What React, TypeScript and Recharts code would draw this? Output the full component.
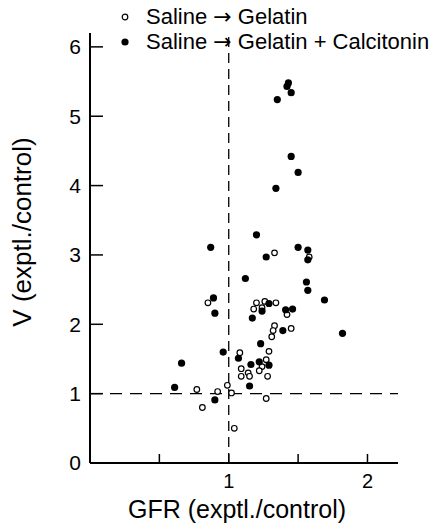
import {ReferenceLine, Scatter, ScatterChart, XAxis, YAxis} from "recharts";

// Saline -> Gelatin (open circles)
const gelatinGfr = [1.33, 1.58, 0.85, 1.20, 1.18, 1.26, 1.34, 1.24, 1.42, 1.33, 1.32, 1.31, 1.45, 1.29, 1.08, 1.27, 1.24, 1.09, 1.22, 1.14, 1.09, 1.15, 1.28, 0.77, 0.99, 0.92, 1.02, 0.81, 1.27, 1.04];
const gelatinV = [3.03, 2.97, 2.31, 2.31, 2.22, 2.33, 2.31, 2.24, 2.14, 1.98, 1.91, 1.82, 1.94, 1.61, 1.59, 1.49, 1.39, 1.36, 1.33, 1.30, 1.25, 1.25, 1.25, 1.06, 1.12, 1.03, 1.01, 0.80, 0.93, 0.50];

// Saline -> Gelatin + Calcitonin (filled circles)
const calcitoninGfr = [1.43, 1.42, 1.45, 1.35, 1.45, 1.50, 1.34, 1.20, 0.87, 1.27, 1.50, 1.57, 1.57, 1.12, 1.56, 1.57, 1.69, 0.89, 0.90, 1.29, 1.24, 1.41, 1.46, 1.17, 1.39, 1.82, 1.23, 0.96, 1.07, 0.66, 1.16, 1.22, 1.29, 1.15, 0.61, 0.90];
const calcitoninV = [5.48, 5.43, 5.34, 5.24, 4.42, 4.19, 3.96, 3.29, 3.11, 2.97, 3.11, 3.07, 2.93, 2.66, 2.61, 2.49, 2.35, 2.38, 2.16, 2.30, 2.19, 2.21, 2.22, 2.09, 1.91, 1.87, 1.72, 1.60, 1.51, 1.44, 1.42, 1.46, 1.41, 1.11, 1.09, 0.91];

const xTicks = [0.5, 1, 1.5, 2];
const yTicks = [0, 1, 2, 3, 4, 5, 6];
const seriesNames = ["Saline \u2192 Gelatin", "Saline \u2192 Gelatin + Calcitonin"];

const gelatinData = gelatinGfr.map((x, i) => ({x, y: gelatinV[i]}));
const calcitoninData = calcitoninGfr.map((x, i) => ({x, y: calcitoninV[i]}));

const font = "'Liberation Sans', Arial, sans-serif";

const OpenDot = (props: any) => (
  <circle cx={props.cx} cy={props.cy} r={2.8} fill="#fff" stroke="#000" strokeWidth={1.2}/>
);
const FilledDot = (props: any) => (
  <circle cx={props.cx} cy={props.cy} r={3.6} fill="#000"/>
);

const YLabel = ({viewBox}: any) => {
  const cx = viewBox.x + viewBox.width - 68;
  const cy = viewBox.y + viewBox.height / 2 - 16;
  return (
    <text x={cx} y={cy} transform={`rotate(-90 ${cx} ${cy})`} textAnchor="middle" dominantBaseline="central"
          fontSize={26} fontFamily={font} fill="#000">
      V (exptl./control)
    </text>
  );
};

const XLabel = ({viewBox}: any) => (
  <text x={viewBox.x + viewBox.width / 2 - 7} y={viewBox.y + 46} textAnchor="middle" dominantBaseline="central"
        fontSize={25} fontFamily={font} fill="#000">
    GFR (exptl./control)
  </text>
);

// legend label with the wide arrow glyph
const LegendText = ({name}: {name: string}) => {
  const [a, b] = name.split("\u2192");
  return (
    <span>{a}<span style={{fontFamily: "'DejaVu Sans'"}}>{"\u2192"}</span>{b}</span>
  );
};

export default function App() {
  return (
    <div style={{position: "absolute", left: 0, top: 0, width: 440, height: 525, background: "#fff", fontFamily: font}}>
      <div style={{position: "absolute", left: 118, top: 4, fontSize: 22, lineHeight: "25px", color: "#000", zIndex: 1, whiteSpace: "nowrap"}}>
        <div style={{display: "flex", alignItems: "center"}}>
          <svg width={14} height={14} style={{marginRight: 14}}><circle cx={7} cy={7} r={2.8} fill="#fff" stroke="#000" strokeWidth={1.2}/></svg>
          <LegendText name={seriesNames[0]}/>
        </div>
        <div style={{display: "flex", alignItems: "center"}}>
          <svg width={14} height={14} style={{marginRight: 14}}><circle cx={7} cy={7} r={3.6} fill="#000"/></svg>
          <LegendText name={seriesNames[1]}/>
        </div>
      </div>
      <ScatterChart width={440} height={525} margin={{top: 33, right: 42, bottom: 2, left: 30}}>
        <XAxis type="number" dataKey="x" domain={[0, 2.22]} ticks={xTicks} height={60}
               axisLine={{stroke: "#000", strokeWidth: 2}} tickLine={{stroke: "#000", strokeWidth: 1.5}}
               tickSize={-9} tickMargin={20}
               tickFormatter={(v: number) => (Number.isInteger(v) ? String(v) : "")}
               tick={{fill: "#000", fontSize: 20, fontFamily: font}}
               label={{content: XLabel}}/>
        <YAxis type="number" dataKey="y" domain={[0, 6.2]} ticks={yTicks} width={60}
               axisLine={{stroke: "#000", strokeWidth: 2}} tickLine={{stroke: "#000", strokeWidth: 1.5}}
               tickSize={-13} tickMargin={22}
               tick={{fill: "#000", fontSize: 21, fontFamily: font}}
               label={{content: YLabel}}/>
        <ReferenceLine x={1} stroke="#000" strokeWidth={1.3} strokeDasharray="10 6"/>
        <ReferenceLine y={1} stroke="#000" strokeWidth={1.3} strokeDasharray="12 8"/>
        <Scatter name={seriesNames[0]} data={gelatinData} shape={OpenDot} isAnimationActive={false}/>
        <Scatter name={seriesNames[1]} data={calcitoninData} shape={FilledDot} isAnimationActive={false}/>
      </ScatterChart>
    </div>
  );
}
